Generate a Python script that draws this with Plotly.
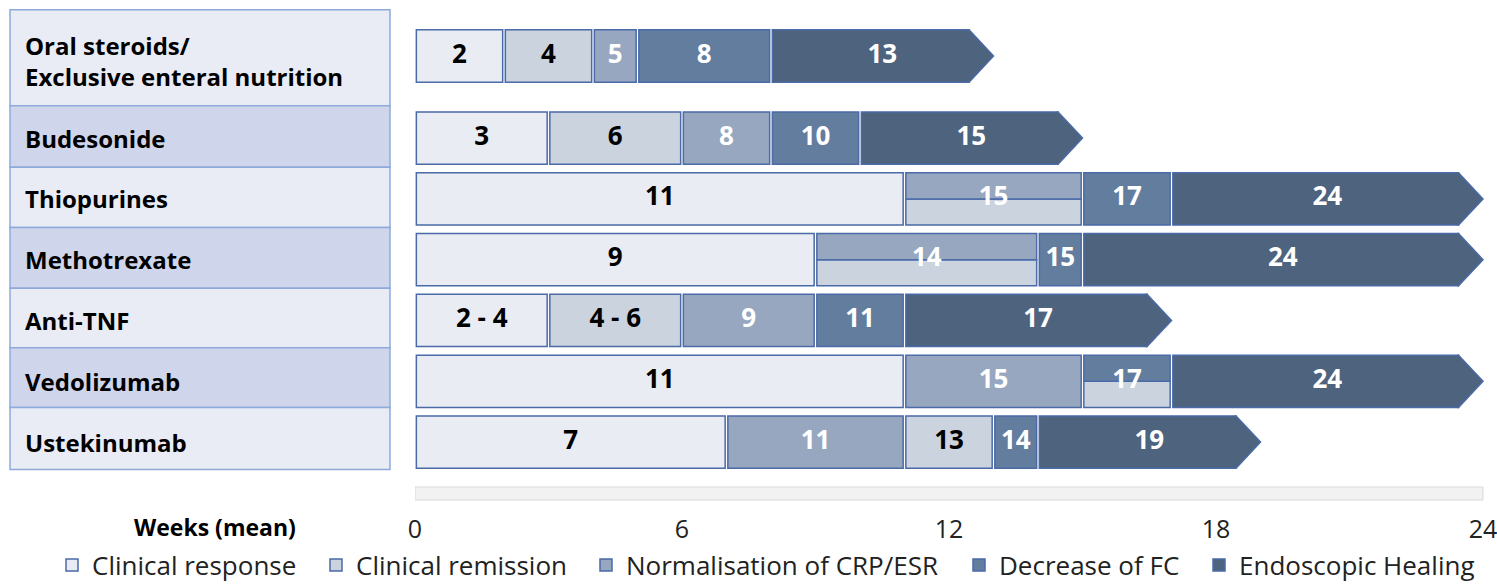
import plotly.graph_objects as go

# ---------------------------------------------------------------- data
treatments = [
    "Oral steroids/<br>Exclusive enteral nutrition",
    "Budesonide",
    "Thiopurines",
    "Methotrexate",
    "Anti-TNF",
    "Vedolizumab",
    "Ustekinumab",
]
outcomes = [
    "Clinical response",
    "Clinical remission",
    "Normalisation of CRP/ESR",
    "Decrease of FC",
    "Endoscopic Healing",
]
outcome_colors = ["#e9ecf2", "#cbd3de", "#97a7bf", "#637d9e", "#4e637e"]

# week at which each successive stage is reached, per treatment
stage_weeks = [
    [2, 4, 5, 8, 13],
    [3, 6, 8, 10, 15],
    [11, 15, 17, 24],
    [9, 14, 15, 24],
    [3, 6, 9, 11, 17],
    [11, 15, 17, 24],
    [7, 11, 13, 14, 19],
]
# outcome reached at each stage; a pair = two outcomes at once (upper, lower half)
stage_outcomes = [
    [0, 1, 2, 3, 4],
    [0, 1, 2, 3, 4],
    [0, (2, 1), 3, 4],
    [0, (2, 1), 3, 4],
    [0, 1, 2, 3, 4],
    [0, 2, (3, 1), 4],
    [0, 2, 1, 3, 4],
]
stage_labels = [
    ["2", "4", "5", "8", "13"],
    ["3", "6", "8", "10", "15"],
    ["11", "15", "17", "24"],
    ["9", "14", "15", "24"],
    ["2 - 4", "4 - 6", "9", "11", "17"],
    ["11", "15", "17", "24"],
    ["7", "11", "13", "14", "19"],
]
week_ticks = [0, 6, 12, 18, 24]

# ---------------------------------------------------------------- layout constants
W, H = 1497, 586
FONT = "Open Sans, Noto Sans, DejaVu Sans, sans-serif"
EDGE = "#4a6aa8"
X0_PX, PX_PER_WEEK, X_MAX = 415, 44.5, 24.25
ROW0_PX, ROW_PX, PLOT_BOTTOM_PX = 56, 60.8, 503
row_pos = [0, 1.35, 2.35, 3.35, 4.35, 5.35, 6.35]
box_edges = [-0.76, 0.82, 1.83, 2.82, 3.82, 4.80, 5.78, 6.80]
box_fills = ["#e9ebf5", "#cfd5ea"]
legend_x_px = [52, 316, 586, 959, 1199]   # left edge of each legend entry
LEGEND_Y_PX = 565
BAR_H = 0.86
GAP = 0.03
HEAD = 0.55


def py(px):
    """pixel row -> y data value"""
    return (px - ROW0_PX) / ROW_PX


# collect bar pieces per outcome
pieces = {k: dict(y=[], base=[], x=[], width=[]) for k in range(len(outcomes))}
heads_x, heads_y = [], []
dark_txt = dict(x=[], y=[], text=[])
light_txt = dict(x=[], y=[], text=[])

for r, (weeks, outs, labs) in enumerate(zip(stage_weeks, stage_outcomes, stage_labels)):
    yc = row_pos[r]
    start = 0
    for end, out, lab in zip(weeks, outs, labs):
        x0 = start + GAP
        if out == 4:
            x1 = end - HEAD
            top, bot = yc - BAR_H / 2, yc + BAR_H / 2
            heads_x += [x1 - 0.03, x1, end, x1, x1 - 0.03, None]
            heads_y += [top, top, yc, bot, bot, None]
        else:
            x1 = end - GAP
        if isinstance(out, tuple):
            for k, sign in zip(out, (-1, 1)):
                p = pieces[k]
                p["y"].append(yc + sign * BAR_H / 4)
                p["width"].append(BAR_H / 2)
                p["base"].append(x0)
                p["x"].append(x1 - x0)
        else:
            p = pieces[out]
            p["y"].append(yc)
            p["width"].append(BAR_H)
            p["base"].append(x0)
            p["x"].append(x1 - x0)
        tgt = dark_txt if out in (0, 1) else light_txt
        tgt["x"].append((start + end) / 2)
        tgt["y"].append(yc)
        tgt["text"].append(lab)
        start = end

fig = go.Figure()
legend_names = ["legend"] + [f"legend{i}" for i in range(2, len(outcomes) + 1)]
for k, name in enumerate(outcomes):
    p = pieces[k]
    fig.add_trace(go.Bar(
        orientation="h", name=name, legend=legend_names[k],
        y=p["y"], x=p["x"], base=p["base"], width=p["width"],
        marker=dict(color=outcome_colors[k], line=dict(color=EDGE, width=1.5)),
        hoverinfo="skip",
    ))

# arrow heads of the endoscopic-healing segments
fig.add_trace(go.Scatter(
    x=heads_x, y=heads_y, mode="lines", fill="toself", fillcolor=outcome_colors[4],
    line=dict(color=EDGE, width=1.5), showlegend=False, hoverinfo="skip",
))

for txt, col in ((dark_txt, "#000000"), (light_txt, "#ffffff")):
    fig.add_trace(go.Scatter(
        x=txt["x"], y=txt["y"], text=txt["text"], mode="text", textposition="middle center",
        textfont=dict(family=FONT, size=26, color=col, weight="bold"),
        showlegend=False, hoverinfo="skip", cliponaxis=False,
    ))

shapes = []
annotations = []
# treatment label column
for r, name in enumerate(treatments):
    shapes.append(dict(
        type="rect", xref="paper", yref="y", x0=10 / W, x1=390 / W,
        y0=box_edges[r], y1=box_edges[r + 1], fillcolor=box_fills[r % 2],
        line=dict(color="#8eaadb", width=1.5), layer="below",
    ))
    yc = row_pos[r] if r else py(61)
    annotations.append(dict(
        xref="paper", yref="y", x=23 / W, y=yc, text=name, showarrow=False,
        xanchor="left", yanchor="middle", align="left",
        font=dict(family=FONT, size=24, color="#000000", weight="bold"),
    ))

# light strip along the time axis
shapes.append(dict(
    type="rect", xref="x", yref="y", x0=0, x1=24, y0=py(487), y1=py(500),
    fillcolor="#f2f2f2", line=dict(color="#d9d9d9", width=1), layer="below",
))

annotations.append(dict(
    xref="paper", yref="paper", x=298 / W, y=1 - 527 / H, text="Weeks (mean)",
    showarrow=False, xanchor="right", yanchor="middle",
    font=dict(family=FONT, size=23, color="#000000", weight="bold"),
))

legends = {}
for k, lx in enumerate(legend_x_px):
    legends[legend_names[k]] = dict(
        orientation="h", xref="paper", yref="paper", x=lx / W, y=1 - LEGEND_Y_PX / H,
        xanchor="left", yanchor="middle", bgcolor="rgba(0,0,0,0)",
        font=dict(family=FONT, size=26, color="#222222"),
        itemclick=False, itemdoubleclick=False,
    )

fig.update_layout(
    width=W, height=H,
    margin=dict(l=0, r=0, t=0, b=0, autoexpand=False),
    paper_bgcolor="white", plot_bgcolor="white",
    barmode="overlay",
    shapes=shapes, annotations=annotations,
    xaxis=dict(
        domain=[X0_PX / W, (X0_PX + X_MAX * PX_PER_WEEK) / W], range=[0, X_MAX],
        tickvals=week_ticks, ticktext=[str(t) for t in week_ticks],
        showgrid=False, zeroline=False, showline=False,
        ticks="outside", ticklen=4, tickcolor="rgba(0,0,0,0)",
        ticklabeloverflow="allow",
        tickfont=dict(family=FONT, size=25, color="#222222"),
    ),
    yaxis=dict(
        domain=[1 - PLOT_BOTTOM_PX / H, 1],
        range=[py(PLOT_BOTTOM_PX), py(0)],
        showgrid=False, zeroline=False, showline=False, showticklabels=False,
    ),
    showlegend=True,
    **legends,
)

fig.write_html("out.html")
